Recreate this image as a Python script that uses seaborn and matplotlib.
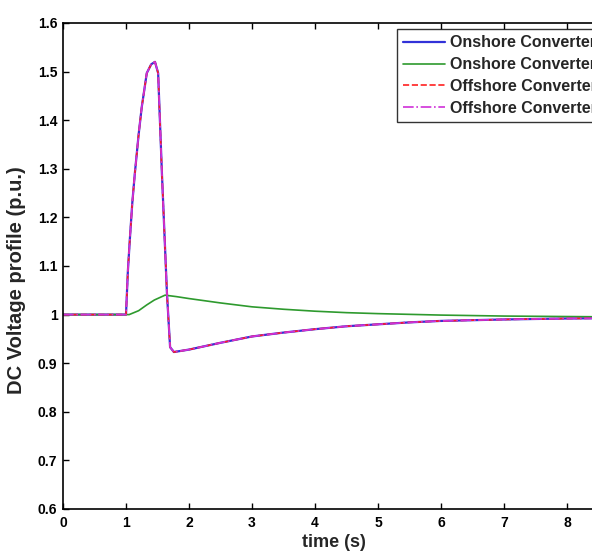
import numpy as np
import pandas as pd
import matplotlib
matplotlib.use("Agg")
import matplotlib.pyplot as plt
import seaborn as sns

# valores (tempo em s, tensao em p.u.)
t_onshore1 = [0, 1.0, 1.03, 1.06, 1.10, 1.14, 1.20, 1.25, 1.33, 1.40, 1.46, 1.51, 1.57,
              1.65, 1.70, 1.76, 2.0, 2.5, 3.0, 3.5, 4.0, 4.5, 5.0, 5.5, 6.0, 7.0, 8.0, 9.0]
v_onshore1 = [1.0, 1.0, 1.09, 1.153, 1.23, 1.29, 1.37, 1.427, 1.497, 1.515, 1.52, 1.497, 1.291,
              1.044, 0.933, 0.923, 0.928, 0.942, 0.955, 0.963, 0.970, 0.976, 0.980, 0.984, 0.987,
              0.990, 0.992, 0.993]

t_onshore2 = [0, 1.05, 1.2, 1.33, 1.45, 1.62, 1.8, 2.0, 2.5, 3.0, 3.5, 4.0, 4.5, 5.0,
              6.0, 7.0, 8.0, 9.0]
v_onshore2 = [1.0, 1.0, 1.008, 1.02, 1.03, 1.04, 1.037, 1.033, 1.024, 1.016, 1.011, 1.007,
              1.004, 1.002, 0.999, 0.997, 0.996, 0.995]

# conversores offshore praticamente sobrepostos ao onshore 1
t_offshore1 = list(t_onshore1)
v_offshore1 = list(v_onshore1)
t_offshore2 = list(t_onshore1)
v_offshore2 = list(v_onshore1)

labels = ['Onshore Converter 1', 'Onshore Converter 2',
          'Offshore Converter 1', 'Offshore Converter 2']
yticks = [0.6, 0.7, 0.8, 0.9, 1.0, 1.1, 1.2, 1.3, 1.4, 1.5, 1.6]
ytick_labels = ['0.6', '0.7', '0.8', '0.9', '1', '1.1', '1.2', '1.3', '1.4', '1.5', '1.6']
xticks = list(range(0, 9))

sns.set_style('ticks')
plt.rcParams['font.family'] = ['Liberation Sans', 'DejaVu Sans']
plt.rcParams['font.weight'] = 'bold'

fig = plt.figure(figsize=(5.92, 5.56), dpi=100)
# o eixo continua um pouco alem da borda direita, como na figura original
ax = fig.add_axes([63 / 592, 47 / 556, 542 / 592, 486 / 556])

series = [
    (t_onshore1, v_onshore1, '#3232d8', '-', 1.6),
    (t_onshore2, v_onshore2, '#2e9a2e', '-', 1.2),
    (t_offshore1, v_offshore1, '#ff2020', '--', 1.2),
    (t_offshore2, v_offshore2, '#d030d8', '-.', 1.2),
]
for (t, v, cor, estilo, lw), nome in zip(series, labels):
    df = pd.DataFrame({'time': t, 'v': v})
    sns.lineplot(data=df, x='time', y='v', ax=ax, color=cor, linestyle=estilo,
                 linewidth=lw, label=nome, sort=False)

ax.set_xlim(0, 542 / 63)
ax.set_ylim(0.6, 1.6)
ax.set_xticks(xticks)
ax.set_yticks(yticks)
ax.set_yticklabels(ytick_labels)
ax.tick_params(direction='in', top=True, right=True, length=4, width=1,
               labelsize=10, colors='black')
ax.tick_params(axis='x', pad=5)
ax.tick_params(axis='y', pad=4)
for lab in ax.get_xticklabels() + ax.get_yticklabels():
    lab.set_fontweight('bold')
for s in ax.spines.values():
    s.set_visible(True)
    s.set_linewidth(1.2)
    s.set_color('black')

ax.set_xlabel('time (s)', fontsize=13, fontweight='bold')
ax.set_ylabel('DC Voltage profile (p.u.)', fontsize=14.5, fontweight='bold')
ax.xaxis.set_label_coords(0.5, -0.052)
ax.yaxis.set_label_coords(-0.068, 0.47)

leg = ax.legend(loc='upper left', bbox_to_anchor=(397 / 592, 1 - 29 / 556),
                bbox_transform=fig.transFigure, frameon=True, fancybox=False,
                fontsize=11.5, handlelength=2.6, labelspacing=0.42, borderpad=0.4,
                handletextpad=0.3, borderaxespad=0)
leg.get_frame().set_edgecolor('black')
leg.get_frame().set_linewidth(1.0)
for txt in leg.get_texts():
    txt.set_fontweight('bold')

fig.savefig('out.png', dpi=100)
